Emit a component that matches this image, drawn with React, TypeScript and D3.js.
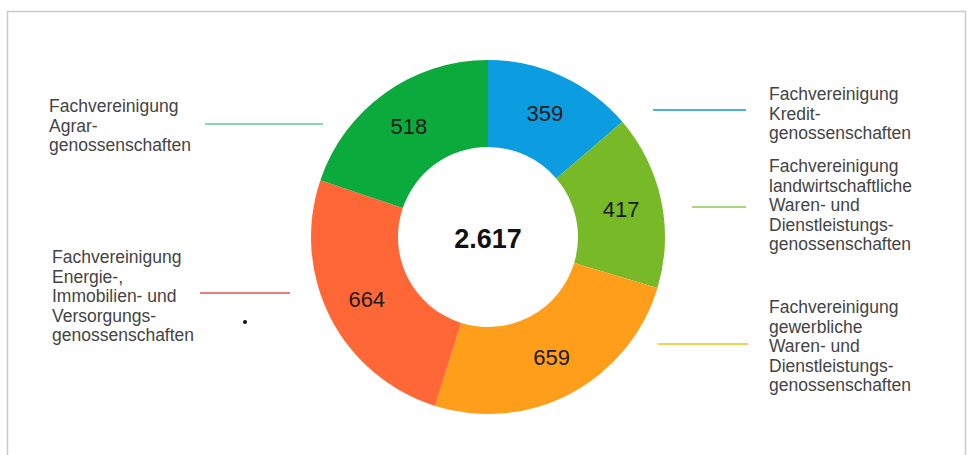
import React, { useEffect, useRef } from 'react';
import * as d3 from 'd3';

const categories = [
  'Kredit',
  'Landwirtschaftliche Waren',
  'Gewerbliche Waren',
  'Energie',
  'Agrar',
];
const values = [359, 417, 659, 664, 518];
const colors = ['#0B9DE0', '#78B928', '#FF9E1A', '#FF6836', '#0BAA3C'];
const lineColors = ['#4BAEE8', '#A8D67E', '#F2CF50', '#EE7B7B', '#86D7AE'];
const labelLines = [
  ['Fachvereinigung', 'Kredit-', 'genossenschaften'],
  ['Fachvereinigung', 'landwirtschaftliche', 'Waren- und', 'Dienstleistungs-', 'genossenschaften'],
  ['Fachvereinigung', 'gewerbliche', 'Waren- und', 'Dienstleistungs-', 'genossenschaften'],
  ['Fachvereinigung', 'Energie-,', 'Immobilien- und', 'Versorgungs-', 'genossenschaften'],
  ['Fachvereinigung', 'Agrar-', 'genossenschaften'],
];
const totalLabel = '2.617';

// legend placement: text x, first baseline, connector line [x1, x2, y]
const legendPos = [
  { x: 769, y: 100, line: [653, 746, 110] },
  { x: 769, y: 172, line: [692, 746, 207] },
  { x: 769, y: 313, line: [658, 748, 344] },
  { x: 52, y: 263, line: [200, 290, 293] },
  { x: 49, y: 112, line: [205, 323, 124] },
];

const App: React.FC = () => {
  const ref = useRef<SVGSVGElement | null>(null);

  useEffect(() => {
    const svg = d3.select(ref.current);
    svg.selectAll('*').remove();

    const width = 968;
    const height = 455;
    const cx = 488;
    const cy = 237;
    const outer = 177;
    const inner = 90;

    svg.attr('width', width).attr('height', height);

    // frame
    svg
      .append('rect')
      .attr('x', 7.5)
      .attr('y', 11.5)
      .attr('width', 958)
      .attr('height', 470)
      .attr('fill', '#fff')
      .attr('stroke', '#cbcbcb')
      .attr('stroke-width', 1.5);

    const pie = d3
      .pie<number>()
      .sort(null)
      .value((d) => d);
    const arcs = pie(values);
    const arc = d3.arc<d3.PieArcDatum<number>>().innerRadius(inner).outerRadius(outer);
    const labelArc = d3
      .arc<d3.PieArcDatum<number>>()
      .innerRadius(136)
      .outerRadius(136);

    const g = svg.append('g').attr('transform', `translate(${cx},${cy})`);

    g.selectAll('path')
      .data(arcs)
      .enter()
      .append('path')
      .attr('d', arc)
      .attr('fill', (_, i) => colors[i]);

    g.selectAll('text.val')
      .data(arcs)
      .enter()
      .append('text')
      .attr('class', 'val')
      .attr('x', (d) => labelArc.centroid(d)[0])
      .attr('y', (d) => labelArc.centroid(d)[1])
      .attr('dy', '0.36em')
      .attr('text-anchor', 'middle')
      .attr('font-family', 'Liberation Sans, Arial, sans-serif')
      .attr('font-size', 22)
      .attr('fill', '#1a1a1a')
      .text((d) => d.data);

    g.append('text')
      .attr('y', 1)
      .attr('dy', '0.36em')
      .attr('text-anchor', 'middle')
      .attr('font-family', 'Liberation Sans, Arial, sans-serif')
      .attr('font-size', 27)
      .attr('font-weight', 'bold')
      .attr('fill', '#111')
      .text(totalLabel);

    // legend labels with connector lines
    categories.forEach((_, i) => {
      const p = legendPos[i];
      svg
        .append('line')
        .attr('x1', p.line[0])
        .attr('x2', p.line[1])
        .attr('y1', p.line[2])
        .attr('y2', p.line[2])
        .attr('stroke', lineColors[i])
        .attr('stroke-width', 2);

      const t = svg
        .append('text')
        .attr('font-family', 'Liberation Sans, Arial, sans-serif')
        .attr('font-size', 17.5)
        .attr('fill', '#444');
      labelLines[i].forEach((line, j) => {
        t.append('tspan')
          .attr('x', p.x)
          .attr('y', p.y + j * 19.5)
          .text(line);
      });
    });

    // stray dot
    svg.append('circle').attr('cx', 245).attr('cy', 322).attr('r', 2).attr('fill', '#111');
  }, []);

  return (
    <>
      <style>{'body{margin:0}'}</style>
      <svg ref={ref}></svg>
    </>
  );
};

export default App;
